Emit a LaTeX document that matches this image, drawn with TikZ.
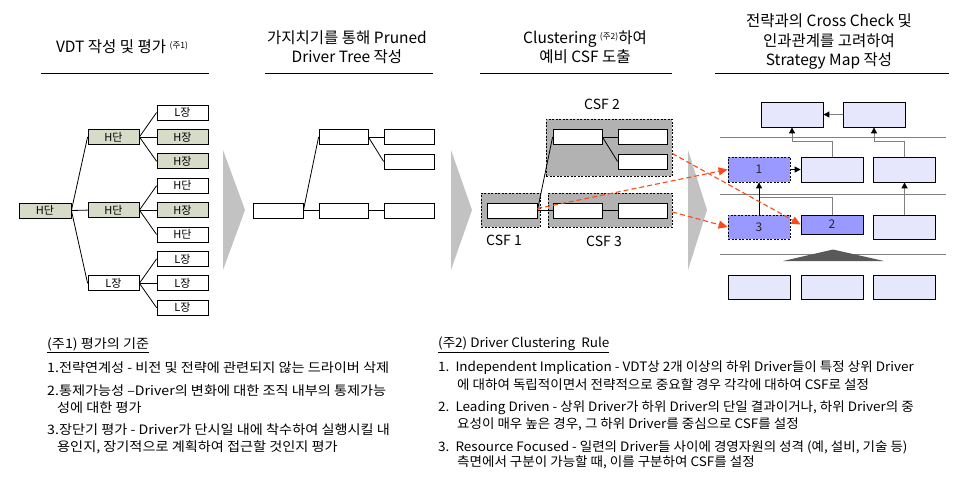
\documentclass[tikz,border=0pt]{standalone}
\usepackage{fontspec}
\setmainfont{Noto Sans CJK KR}
\usetikzlibrary{arrows.meta}
\definecolor{gbox}{RGB}{214,220,200}
\definecolor{lav}{RGB}{230,230,252}
\definecolor{blu}{RGB}{153,153,255}
\definecolor{csfgray}{RGB}{178,178,178}
\definecolor{chev}{RGB}{194,194,194}
\definecolor{redd}{RGB}{255,72,24}
\definecolor{darktri}{RGB}{89,89,89}
\definecolor{lgray}{RGB}{128,128,128}
\definecolor{txtd}{RGB}{40,40,40}
\newcommand{\supnote}[1]{\raisebox{4pt}{\fontsize{8.5}{9}\selectfont #1}}
\newcommand{\lnote}[1]{\scalebox{1.09}[1]{#1}}
\newcommand{\rnote}[1]{\scalebox{1.04}[1]{#1}}
\begin{document}
\begin{tikzpicture}[x=1pt,y=-1pt,
  tbox/.style={draw=black, line width=0.8pt, minimum width=51pt, minimum height=15pt, inner sep=0pt, font=\fontsize{11}{12}\selectfont},
  gf/.style={fill=gbox},
  wf/.style={fill=white},
  csfc/.style={draw=black, fill=csfgray, line width=0.7pt, dash pattern=on 2pt off 1.5pt, inner sep=0pt},
  mbox/.style={draw=black, fill=lav, line width=0.8pt, minimum width=62pt, minimum height=25pt, inner sep=0pt, font=\fontsize{12}{13}\selectfont\color{txtd}},
  bbox/.style={mbox, fill=blu},
  dbox/.style={bbox, dash pattern=on 2pt off 1.5pt},
  tline/.style={line width=0.8pt},
  sepline/.style={draw=lgray, line width=1pt},
  gline/.style={draw=lgray, line width=0.9pt},
  garrow/.style={gline, -{Triangle[length=6pt,width=6pt,color=black]}},
  barrow/.style={draw=black, line width=0.9pt, -{Triangle[length=6pt,width=6pt]}},
  rarrow/.style={draw=redd, line width=1.1pt, dash pattern=on 5pt off 3pt, -{Triangle[length=9pt,width=8pt]}},
  title/.style={align=center, font=\fontsize{15.5}{19.5}\selectfont, inner sep=0pt},
  note/.style={anchor=west, inner sep=0pt, font=\fontsize{13}{14}\selectfont},
  csflab/.style={font=\fontsize{14}{15}\selectfont, inner sep=0pt}
]
\useasboundingbox (0,0) rectangle (963,491);

% ---------- titles ----------
\node[title] (t1) at (122,47) {VDT 작성 및 평가 \supnote{(주1)}};
\node[title] (t2) at (347,47) {가지치기를 통해 Pruned\\Driver Tree 작성};
\node[title] (t3) at (585,47) {Clustering \supnote{(주2)}하여\\예비 CSF 도출};
\node[title] (t4) at (829,42) {전략과의 Cross Check 및\\인과관계를 고려하여\\Strategy Map 작성};
\draw[line width=1pt] (41,73) -- (209,73);
\draw[line width=1pt] (265,73) -- (433,73);
\draw[line width=1pt] (480,73) -- (672,73);
\draw[line width=1pt] (715,73) -- (949,73);

% ---------- chevrons ----------
\fill[chev] (223,150) -- (245,210) -- (223,270) -- cycle;
\fill[chev] (451,150) -- (472,210) -- (451,270) -- cycle;
\fill[chev] (688,150) -- (707,210) -- (688,270) -- cycle;

% ---------- column 1 tree ----------
\node[tbox,gf,minimum width=52pt] (r) at (45,210.5) {H단};
\node[tbox,gf] (a) at (113.5,136.9) {H단};
\node[tbox,gf] (b) at (113.5,210.1) {H단};
\node[tbox,wf] (c) at (113.5,283.3) {L장};
\node[tbox,wf] (a1) at (182.5,112.5) {L장};
\node[tbox,gf] (a2) at (182.5,136.9) {H장};
\node[tbox,gf] (a3) at (182.5,161.3) {H장};
\node[tbox,wf] (b1) at (182.5,185.7) {H단};
\node[tbox,gf] (b2) at (182.5,210.1) {H장};
\node[tbox,wf] (b3) at (182.5,234.5) {H단};
\node[tbox,wf] (c1) at (182.5,258.9) {L장};
\node[tbox,wf] (c2) at (182.5,283.3) {L장};
\node[tbox,wf] (c3) at (182.5,307.7) {L장};
\foreach \p/\q in {r/a,r/b,r/c,a/a1,a/a2,a/a3,b/b1,b/b2,b/b3,c/c1,c/c2,c/c3}
  \draw[tline] (\p.east) -- (\q.west);

% ---------- column 2 pruned tree ----------
\node[tbox,wf,minimum width=50pt] (pr) at (278,210.5) {};
\node[tbox,wf,minimum width=49pt] (pa) at (343.5,137) {};
\node[tbox,wf,minimum width=49pt] (pb) at (343.5,210.5) {};
\node[tbox,wf,minimum width=50pt] (pa1) at (409,137) {};
\node[tbox,wf,minimum width=50pt] (pa2) at (409,161.5) {};
\node[tbox,wf,minimum width=50pt] (pb1) at (409,210.5) {};
\foreach \p/\q in {pr/pa,pr/pb,pa/pa1,pa/pa2,pb/pb1}
  \draw[tline] (\p.east) -- (\q.west);

% ---------- column 3 clusters ----------
\node[csfc,minimum width=126pt,minimum height=57pt] (csf2) at (609,147.5) {};
\node[csfc,minimum width=59pt,minimum height=34pt] (csf1) at (510.5,210) {};
\node[csfc,minimum width=124pt,minimum height=34pt] (csf3) at (610,210) {};
\node[csflab] (l2) at (602,104) {CSF 2};
\node[csflab] (l1) at (504,240) {CSF 1};
\node[csflab] (l3) at (604,241) {CSF 3};
\node[tbox,wf,minimum width=50pt] (k1) at (512,210.5) {};
\node[tbox,wf,minimum width=49pt] (k2a) at (577.5,137) {};
\node[tbox,wf,minimum width=49pt] (k2b) at (642.5,137) {};
\node[tbox,wf,minimum width=49pt] (k2c) at (642.5,161.5) {};
\node[tbox,wf,minimum width=49pt] (k3a) at (577.5,210.5) {};
\node[tbox,wf,minimum width=49pt] (k3b) at (642.5,210.5) {};
\foreach \p/\q in {k1/k2a,k1/k3a,k2a/k2b,k2a/k2c,k3a/k3b}
  \draw[tline] (\p.east) -- (\q.west);

% ---------- column 4 strategy map ----------
\draw[sepline] (720,137.5) -- (946,137.5);
\draw[sepline] (720,194) -- (946,194);
\draw[sepline] (720,254) -- (946,254);
\fill[darktri] (783,261) -- (833,249.5) -- (884,261) -- cycle;

\node[mbox] (A) at (792,114.5) {};
\node[mbox] (B) at (874,114.5) {};
\node[dbox] (n1) at (759,169.5) {1};
\node[mbox] (C) at (832,169.5) {};
\node[mbox] (D) at (904.5,169.5) {};
\node[dbox,minimum height=24pt] (n3) at (759,227) {3};
\node[bbox,minimum height=19pt] (n2) at (832,224.5) {2};
\node[mbox,minimum height=24pt] (E) at (904.5,227) {};
\node[mbox,minimum height=24pt] (F1) at (759,287) {};
\node[mbox,minimum height=24pt] (F2) at (832,287) {};
\node[mbox,minimum height=24pt] (F3) at (904.5,287) {};

\draw[garrow] (B.west) -- (A.east);
\draw[garrow] (C.north) -- ++(0,-15.5) -| (A.south);
\draw[garrow] (D.north) -- ++(0,-15.5) -| (B.south);
\draw[gline] (n2.north) -- ++(0,-17) -| (n1.south);
\draw[barrow] (n3.north) -- (n1.south);
\draw[barrow] (n1.east) -- (C.west);
\draw[garrow, line width=1.6pt] (E.north) -- (D.south);

% ---------- red dashed links ----------
\draw[rarrow] ([yshift=2pt]k1.east) -- (n1.west);
\draw[rarrow] ([yshift=-6pt]csf2.east) -- (n2.west);
\draw[rarrow] ([yshift=-2pt]csf3.east) -- (n3.west);

% ---------- notes ----------
\node[note] (na0) at (47,345) {\lnote{\underline{(주1) 평가의 기준}}};
\node[note] (na1) at (47,368) {\lnote{1.전략연계성 - 비전 및 전략에 관련되지 않는 드라이버 삭제}};
\node[note] (na2) at (47,391) {\lnote{2.통제가능성 –Driver의 변화에 대한 조직 내부의 통제가능}};
\node[note] (na3) at (57,408) {\lnote{성에 대한 평가}};
\node[note] (na4) at (47,430) {\lnote{3.장단기 평가 - Driver가 단시일 내에 착수하여 실행시킬 내}};
\node[note] (na5) at (57,447) {\lnote{용인지, 장기적으로 계획하여 접근할 것인지 평가}};

\node[note] (nb0) at (438,345) {\rnote{\underline{(주2) Driver Clustering\ \ Rule}}};
\node[note] (nb1) at (438,368) {\rnote{1.\ \ Independent Implication - VDT상 2개 이상의 하위 Driver들이 특정 상위 Driver}};
\node[note] (nb2) at (457,385) {\rnote{에 대하여 독립적이면서 전략적으로 중요할 경우 각각에 대하여 CSF로 설정}};
\node[note] (nb3) at (438,408) {\rnote{2.\ \ Leading Driven - 상위 Driver가 하위 Driver의 단일 결과이거나, 하위 Driver의 중}};
\node[note] (nb4) at (457,424) {\rnote{요성이 매우 높은 경우, 그 하위 Driver를 중심으로 CSF를 설정}};
\node[note] (nb5) at (438,447) {\rnote{3.\ \ Resource Focused - 일련의 Driver들 사이에 경영자원의 성격 (예, 설비, 기술 등)}};
\node[note] (nb6) at (457,462) {\rnote{측면에서 구분이 가능할 때, 이를 구분하여 CSF를 설정}};
\end{tikzpicture}
\end{document}
